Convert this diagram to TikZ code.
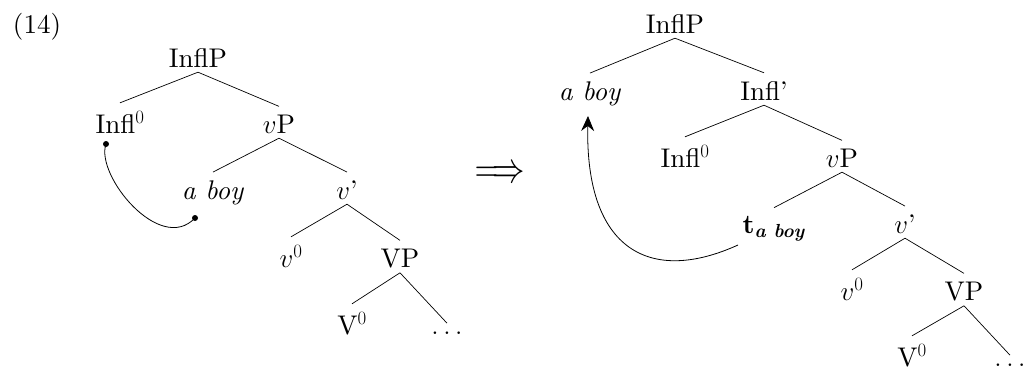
\RequirePackage{fix-cm}
\documentclass[tikz,border=0pt]{standalone}
\usepackage{fontspec}
\setmainfont{lmroman10}[Extension=.otf, UprightFont=*-regular, ItalicFont=*-italic, BoldFont=*-bold, BoldItalicFont=*-bolditalic]
\usetikzlibrary{arrows.meta}
\begin{document}
\begin{tikzpicture}[x=1pt,y=-1pt,
  every node/.style={font=\fontsize{27}{32}\selectfont},
  tn/.style={anchor=base,inner xsep=0pt,inner ysep=5pt},
  br/.style={line width=0.7pt},
  mv/.style={line width=0.8pt}]
\useasboundingbox (0,0) rectangle (1025,367);
\node[anchor=base] (ex) at (37,33) {(14)};
% left tree
\node[tn] (lip) at (198,67) {InflP};
\node[tn] (li0) at (120,133) {Infl$^0$};
\node[tn] (lvp) at (279,133) {$v$P};
\node[tn] (lab) at (213,199) {\textit{a boy}};
\node[tn] (lvb) at (347,199) {$v$’};
\node[tn] (lv0) at (291,267) {$v^0$};
\node[tn] (lVP) at (400,267) {VP};
\node[tn] (lV0) at (352,334) {V$^0$};
\node[tn] (ldd) at (447,334) {$\ldots$};
\draw[br] (lip.south) -- ([yshift=3pt]li0.north);
\draw[br] (lip.south) -- ([yshift=3pt]lvp.north);
\draw[br] (lvp.south) -- ([yshift=3pt]lab.north);
\draw[br] (lvp.south) -- ([yshift=3pt]lvb.north);
\draw[br] (lvb.south) -- ([yshift=3pt]lv0.north);
\draw[br] (lvb.south) -- ([yshift=3pt]lVP.north);
\draw[br] (lVP.south) -- ([yshift=3pt]lV0.north);
\draw[br] (lVP.south) -- ([yshift=3pt]ldd.north);
\coordinate (d1) at (106,144);
\coordinate (d2) at (195,218);
\draw[mv] (d1) .. controls (95,175) and (160,255) .. (d2);
\fill (d1) circle (3);
\fill (d2) circle (3);
% implication
\node[xscale=1.2,yscale=1.6] (imp) at (500,175) {$\Longrightarrow$};
% right tree
\node[tn] (rip) at (675,33) {InflP};
\node[tn] (rab) at (590,100) {\textit{a boy}};
\node[tn] (rib) at (764,100) {Infl’};
\node[tn] (ri0) at (685,167) {Infl$^0$};
\node[tn] (rvp) at (842,167) {$v$P};
\node[tn] (rt) at (774,233) {\textbf{t}\textsubscript{\textbf{\textit{a boy}}}};
\node[tn] (rvb) at (905,233) {$v$’};
\node[tn] (rv0) at (852,300) {$v^0$};
\node[tn] (rVP) at (964,300) {VP};
\node[tn] (rV0) at (912,366) {V$^0$};
\node[tn] (rdd) at (1010,366) {$\ldots$};
\draw[br] (rip.south) -- ([yshift=3pt]rab.north);
\draw[br] (rip.south) -- ([yshift=3pt]rib.north);
\draw[br] (rib.south) -- ([yshift=3pt]ri0.north);
\draw[br] (rib.south) -- ([yshift=3pt]rvp.north);
\draw[br] (rvp.south) -- ([yshift=3pt]rt.north);
\draw[br] (rvp.south) -- ([yshift=3pt]rvb.north);
\draw[br] (rvb.south) -- ([yshift=3pt]rv0.north);
\draw[br] (rvb.south) -- ([yshift=3pt]rVP.north);
\draw[br] (rVP.south) -- ([yshift=3pt]rV0.north);
\draw[br] (rVP.south) -- ([yshift=3pt]rdd.north);
\coordinate (ts) at (738,245);
\coordinate (te) at (588,116);
\draw[mv,-{Stealth[length=15pt,width=13pt,inset=5pt]}] (ts) .. controls (650,285) and (585,250) .. (te);
\end{tikzpicture}
\end{document}
